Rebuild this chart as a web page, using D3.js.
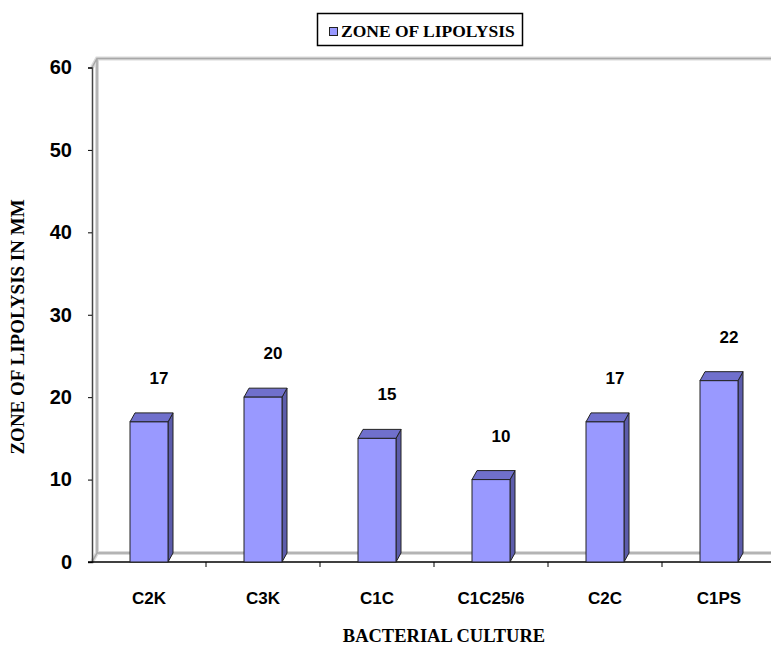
<!DOCTYPE html>
<html><head><meta charset="utf-8">
<script src="https://cdn.jsdelivr.net/npm/d3@7"></script>
<style>body{margin:0;background:#fff;} svg{display:block;}</style>
</head><body>
<svg id="c" width="771" height="649"></svg>
<script>
const categories = ["C2K","C3K","C1C","C1C25/6","C2C","C1PS"];
const values = [17,20,15,10,17,22];
const yTicks = [0,10,20,30,40,50,60];
const seriesName = "ZONE OF LIPOLYSIS";
const xTitle = "BACTERIAL CULTURE";
const yTitle = "ZONE OF LIPOLYSIS IN MM";

const svg = d3.select("#c");
const pLeft = 92, pRight = 776, pTop = 67.5, pBottom = 562;
const dx = 5, dy = 9;
const x = d3.scaleBand().domain(categories).range([pLeft, pRight]).paddingInner(2/3).paddingOuter(1/3);
const y = d3.scaleLinear().domain([0,60]).range([pBottom, pTop]);

// back wall / floor
const wall = svg.append("g");
function wallPath(){
  return `M${pLeft},${y(60)} L${pLeft+dx},${y(60)-dy} L771,${y(60)-dy} M${pLeft+dx},${y(60)-dy} L${pLeft+dx},${y(0)-dy} L771,${y(0)-dy} M${pLeft},${y(0)} L${pLeft+dx},${y(0)-dy}`;
}
wall.append("path").attr("d", wallPath()).attr("fill","none").attr("stroke","#dadada").attr("stroke-width",4);
wall.append("path").attr("d", wallPath()).attr("fill","none").attr("stroke","#a8a8a8").attr("stroke-width",1.5);

// axes
const yAxis = d3.axisLeft(y).tickValues(yTicks).tickSize(4).tickPadding(16);
const gy = svg.append("g").attr("transform",`translate(${pLeft},0)`).call(yAxis);
gy.select(".domain").attr("stroke","#444").attr("stroke-width",1.5);
gy.selectAll(".tick line").attr("stroke","#000");
gy.selectAll("text").attr("font-family","Liberation Sans, Arial, sans-serif").attr("font-weight","bold").attr("font-size",20).attr("fill","#000");

// category boundary ticks
const bounds = categories.map(c => x(c) - x.step()*x.paddingInner()/2).concat([pRight]);
svg.append("g").selectAll("line").data(bounds.slice(1)).join("line")
  .attr("x1",d=>d).attr("x2",d=>d).attr("y1",pBottom).attr("y2",pBottom+5).attr("stroke","#000");

svg.append("line").attr("x1",pLeft-4).attr("x2",771).attr("y1",pBottom).attr("y2",pBottom).attr("stroke","#000").attr("stroke-width",1.5);

// bars
const bars = svg.append("g").selectAll("g").data(categories.map((c,i)=>({c,v:values[i]}))).join("g");
const bw = x.bandwidth();
bars.append("path").attr("d",d=>{const x0=x(d.c)+bw, yt=y(d.v);
  return `M${x0},${yt} L${x0+dx},${yt-dy} L${x0+dx},${pBottom-dy} L${x0},${pBottom} Z`;})
  .attr("fill","#5c5cab").attr("stroke","#222").attr("stroke-width",1);
bars.append("path").attr("d",d=>{const x0=x(d.c), yt=y(d.v);
  return `M${x0},${yt} L${x0+dx},${yt-dy} L${x0+bw+dx},${yt-dy} L${x0+bw},${yt} Z`;})
  .attr("fill","#7070cc").attr("stroke","#222").attr("stroke-width",1);
bars.append("rect").attr("x",d=>x(d.c)).attr("y",d=>y(d.v)).attr("width",bw).attr("height",d=>pBottom-y(d.v))
  .attr("fill","#9999ff").attr("stroke","#222").attr("stroke-width",1);

// value labels
bars.append("text").attr("x",d=>x(d.c)+bw/2+10).attr("y",d=>y(d.v)-38)
  .attr("text-anchor","middle").attr("font-family","Liberation Sans, Arial, sans-serif").attr("font-weight","bold").attr("font-size",17)
  .text(d=>d.v);

// category labels
svg.append("g").selectAll("text").data(categories).join("text")
  .attr("x",d=>x(d)+bw/2).attr("y",604).attr("text-anchor","middle")
  .attr("font-family","Liberation Sans, Arial, sans-serif").attr("font-weight","bold").attr("font-size",17).text(d=>d);

// titles
svg.append("text").attr("x",444).attr("y",642).attr("text-anchor","middle")
  .attr("font-family","Liberation Serif, Times New Roman, serif").attr("font-weight","bold").attr("font-size",18.5).text(xTitle);
svg.append("text").attr("transform","translate(24,327) rotate(-90)").attr("text-anchor","middle")
  .attr("font-family","Liberation Serif, Times New Roman, serif").attr("font-weight","bold").attr("font-size",19).text(yTitle);

// legend
const lg = svg.append("g");
lg.append("rect").attr("x",317.5).attr("y",13.5).attr("width",205).attr("height",32).attr("fill","#fff").attr("stroke","#000").attr("stroke-width",1.5);
lg.append("rect").attr("x",329.5).attr("y",27.5).attr("width",8).attr("height",8).attr("fill","#9999ff").attr("stroke","#222");
lg.append("text").attr("x",341).attr("y",37).attr("font-family","Liberation Serif, Times New Roman, serif").attr("font-weight","bold").attr("font-size",17.5).text(seriesName);
</script>
</body></html>
